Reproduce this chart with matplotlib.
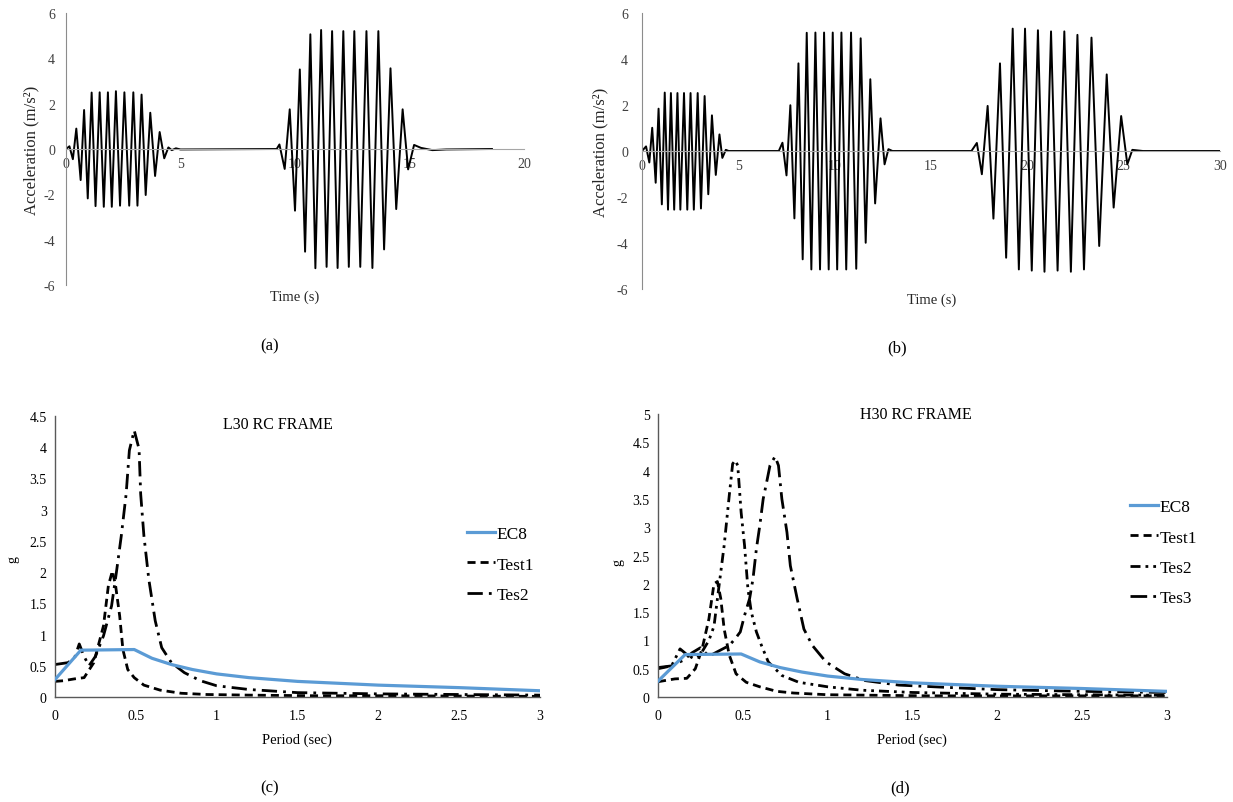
import matplotlib
matplotlib.use('Agg')
import matplotlib.pyplot as plt

plt.rcParams['font.family'] = ['Liberation Serif', 'DejaVu Serif']

# ---------------- data ----------------
# (a) acceleration record, extrema
time_a = [0.00, 0.15, 0.30, 0.45, 0.64, 0.79, 0.95, 1.12, 1.29, 1.47, 1.65, 1.83, 2.00, 2.18,
          2.36, 2.55, 2.76, 2.94, 3.12, 3.30, 3.48, 3.68, 3.89, 4.09, 4.29, 4.47, 4.62, 4.80,
          5.00, 9.20, 9.32, 9.55, 9.77, 10.00, 10.21, 10.44, 10.67, 10.89, 11.14, 11.38, 11.62,
          11.86, 12.11, 12.35, 12.59, 12.85, 13.12, 13.38, 13.64, 13.89, 14.17, 14.42, 14.70,
          14.94, 15.20, 15.50, 16.00, 16.60, 18.60]
acc_a = [0.0, 0.12, -0.45, 0.90, -1.37, 1.72, -2.18, 2.49, -2.52, 2.50, -2.55, 2.50, -2.55, 2.55,
         -2.50, 2.50, -2.50, 2.50, -2.50, 2.40, -2.03, 1.60, -1.19, 0.75, -0.41, 0.07, -0.05, 0.03,
         -0.02, 0.0, 0.20, -0.88, 1.75, -2.72, 3.51, -4.53, 5.06, -5.26, 5.25, -5.20, 5.20,
         -5.25, 5.20, -5.20, 5.20, -5.20, 5.20, -5.25, 5.20, -4.43, 3.56, -2.65, 1.75,
         -0.90, 0.18, 0.05, -0.05, -0.02, 0.0]

# (b) acceleration record
time_b = [0.00, 0.21, 0.38, 0.53, 0.71, 0.86, 1.03, 1.18, 1.35, 1.50, 1.67, 1.84, 1.99, 2.18,
          2.35, 2.52, 2.69, 2.89, 3.06, 3.25, 3.44, 3.63, 3.83, 4.02, 4.17, 4.35, 4.50,
          7.10, 7.29, 7.50, 7.70, 7.91, 8.12, 8.34, 8.55, 8.79, 9.00, 9.24, 9.45, 9.69, 9.90,
          10.13, 10.35, 10.60, 10.85, 11.12, 11.35, 11.61, 11.85, 12.10, 12.38, 12.59, 12.79, 13.00,
          17.10, 17.38, 17.64, 17.94, 18.24, 18.58, 18.90, 19.24, 19.56, 19.88, 20.23, 20.55,
          20.89, 21.23, 21.57, 21.92, 22.26, 22.60, 22.94, 23.33, 23.73, 24.12, 24.48, 24.87,
          25.19, 25.45, 26.00, 30.00]
acc_b = [0.0, 0.20, -0.50, 1.01, -1.38, 1.84, -2.32, 2.54, -2.55, 2.52, -2.55, 2.52, -2.55, 2.52,
         -2.55, 2.52, -2.55, 2.52, -2.50, 2.39, -1.88, 1.55, -1.04, 0.72, -0.30, 0.05, 0.0,
         0.0, 0.36, -1.06, 1.99, -2.93, 3.81, -4.71, 5.14, -5.15, 5.15, -5.15, 5.15, -5.15, 5.15,
         -5.15, 5.15, -5.15, 5.15, -5.12, 4.90, -3.99, 3.12, -2.28, 1.42, -0.58, 0.08, 0.0,
         0.0, 0.35, -1.01, 1.96, -2.94, 3.81, -4.64, 5.32, -5.15, 5.32, -5.20, 5.25,
         -5.25, 5.20, -5.20, 5.20, -5.25, 5.05, -5.15, 4.93, -4.13, 3.33, -2.46, 1.52,
         -0.58, 0.05, 0.0, 0.0]

# EC8 design spectrum (same in c and d)
period_ec8 = [0.0, 0.16, 0.49, 0.60, 0.72, 0.85, 1.0, 1.2, 1.5, 2.0, 2.5, 3.0]
sa_ec8 = [0.28, 0.75, 0.76, 0.62, 0.52, 0.44, 0.37, 0.31, 0.25, 0.19, 0.15, 0.10]

# (c) L30 RC frame
period_c_t1 = [0.0, 0.05, 0.12, 0.18, 0.24, 0.30, 0.33, 0.355, 0.375, 0.40, 0.42, 0.45, 0.49,
               0.55, 0.65, 0.78, 0.94, 1.2, 1.6, 2.0, 2.5, 3.0]
sa_c_t1 = [0.25, 0.26, 0.29, 0.31, 0.55, 1.14, 1.78, 2.02, 1.78, 1.30, 0.76, 0.44, 0.31,
           0.19, 0.11, 0.06, 0.04, 0.03, 0.02, 0.02, 0.015, 0.01]
period_c_t2 = [0.0, 0.08, 0.12, 0.15, 0.18, 0.21, 0.25, 0.30, 0.35, 0.38, 0.41, 0.44, 0.46, 0.49,
               0.52, 0.53, 0.55, 0.58, 0.62, 0.66, 0.72, 0.80, 0.90, 1.0, 1.2, 1.5, 2.0, 2.5, 3.0]
sa_c_t2 = [0.52, 0.55, 0.62, 0.85, 0.65, 0.50, 0.65, 0.98, 1.46, 2.00, 2.58, 3.25, 3.95, 4.27,
           3.97, 3.25, 2.58, 1.89, 1.22, 0.79, 0.55, 0.39, 0.26, 0.18, 0.12, 0.07, 0.05, 0.04, 0.03]

# (d) H30 RC frame
period_d_t1 = [0.0, 0.10, 0.17, 0.22, 0.26, 0.30, 0.33, 0.35, 0.37, 0.39, 0.42, 0.46, 0.52, 0.60,
               0.70, 0.80, 1.0, 1.3, 1.6, 2.0, 2.5, 3.0]
sa_d_t1 = [0.27, 0.32, 0.33, 0.50, 0.85, 1.38, 2.00, 2.04, 1.74, 1.20, 0.74, 0.41, 0.26, 0.18,
           0.10, 0.07, 0.04, 0.03, 0.02, 0.02, 0.02, 0.02]
period_d_t2 = [0.0, 0.08, 0.13, 0.17, 0.21, 0.25, 0.30, 0.33, 0.36, 0.39, 0.42, 0.44, 0.455, 0.47,
               0.49, 0.51, 0.53, 0.55, 0.58, 0.61, 0.65, 0.73, 0.83, 1.0, 1.2, 1.5, 2.0, 2.5, 3.0]
sa_d_t2 = [0.50, 0.55, 0.85, 0.75, 0.68, 0.75, 1.00, 1.25, 1.97, 2.68, 3.56, 4.12, 4.18, 4.09,
           3.26, 2.68, 1.91, 1.50, 1.15, 0.91, 0.62, 0.38, 0.26, 0.18, 0.12, 0.08, 0.05, 0.04, 0.03]
period_d_t3 = [0.0, 0.08, 0.15, 0.20, 0.25, 0.30, 0.35, 0.42, 0.455, 0.485, 0.51, 0.54, 0.56, 0.58,
               0.60, 0.62, 0.64, 0.66, 0.69, 0.71, 0.73, 0.76, 0.78, 0.82, 0.86, 0.91, 0.99, 1.1,
               1.22, 1.42, 1.7, 2.0, 2.5, 3.0]
sa_d_t3 = [0.52, 0.55, 0.65, 0.78, 0.87, 0.72, 0.80, 0.91, 1.03, 1.15, 1.44, 1.74, 2.09, 2.62,
           3.03, 3.50, 3.79, 4.09, 4.25, 4.09, 3.50, 2.91, 2.32, 1.74, 1.20, 0.91, 0.62, 0.41,
           0.29, 0.21, 0.17, 0.13, 0.10, 0.08]

ticks_time_a = [0, 5, 10, 15, 20]
ticks_time_b = [0, 5, 10, 15, 20, 25, 30]
ticks_acc = [-6, -4, -2, 0, 2, 4, 6]
ticks_period = [0, 0.5, 1, 1.5, 2, 2.5, 3]
ticks_g_c = [0, 0.5, 1, 1.5, 2, 2.5, 3, 3.5, 4, 4.5]
ticks_g_d = [0, 0.5, 1, 1.5, 2, 2.5, 3, 3.5, 4, 4.5, 5]

# ---------------- figure ----------------
W, H = 1233, 803
fig = plt.figure(figsize=(W / 100, H / 100), dpi=100)


def box(x0, x1, ytop, ybot):
    return [x0 / W, 1 - ybot / H, (x1 - x0) / W, (ybot - ytop) / H]


def ftxt(x, y, s, **kw):
    kw.setdefault('ha', 'center')
    kw.setdefault('va', 'center')
    fig.text(x / W, 1 - y / H, s, **kw)


def fmt(v):
    return '%g' % v


def time_axes(rect, xmax, xticks, t, a, ypad):
    ax = fig.add_axes(rect)
    ax.plot(t, a, color='black', lw=1.4, solid_joinstyle='round')
    ax.set_xlim(0, xmax)
    ax.set_ylim(-6, 6)
    for s in ('top', 'right'):
        ax.spines[s].set_visible(False)
    ax.spines['bottom'].set_position(('data', 0))
    ax.spines['bottom'].set_color('#a6a6a6')
    ax.spines['left'].set_color('#8c8c8c')
    ax.set_xticks(xticks)
    ax.set_xticklabels([fmt(v) for v in xticks])
    ax.set_yticks(ticks_acc)
    ax.set_yticklabels([fmt(v) for v in ticks_acc])
    ax.tick_params(axis='x', length=0, pad=6, labelsize=10, labelcolor='#404040')
    ax.tick_params(axis='y', length=0, pad=ypad, labelsize=10, labelcolor='#404040')
    return ax


ax_a = time_axes(box(66, 524, 14, 286), 20, ticks_time_a, time_a, acc_a, 8)
ax_b = time_axes(box(642, 1220, 14, 290), 30, ticks_time_b, time_b, acc_b, 10)

ftxt(31, 150, 'Acceleration (m/s²)', rotation=90, fontsize=12, color='#262626')
ftxt(295, 297, 'Time (s)', fontsize=10.5, color='#262626')
ftxt(600, 152, 'Acceleration (m/s²)', rotation=90, fontsize=12, color='#262626')
ftxt(932, 300, 'Time (s)', fontsize=10.5, color='#262626')

BLUE = '#5B9BD5'
LW = 2.0


def spec_axes(rect, ymax, yticks):
    ax = fig.add_axes(rect)
    ax.set_xlim(0, 3)
    ax.set_ylim(0, ymax)
    for s in ('top', 'right'):
        ax.spines[s].set_visible(False)
    for s in ('left', 'bottom'):
        ax.spines[s].set_color('#595959')
        ax.spines[s].set_linewidth(1.0)
    ax.set_xticks(ticks_period)
    ax.set_xticklabels([fmt(v) for v in ticks_period])
    ax.set_yticks(yticks)
    ax.set_yticklabels([fmt(v) for v in yticks])
    ax.tick_params(axis='x', length=0, pad=9, labelsize=10)
    ax.tick_params(axis='y', length=0, pad=6, labelsize=10)
    return ax


LEG = dict(loc='upper left', bbox_transform=fig.transFigure, frameon=False, borderpad=0,
           borderaxespad=0, handlelength=1.6, handletextpad=0.1, labelspacing=0.82, fontsize=12.5)

# (c)
ax_c = spec_axes(box(55, 540, 417, 698), 4.5, ticks_g_c)
ax_c.plot(period_ec8, sa_ec8, color=BLUE, lw=2.3, label='EC8', zorder=3)
ax_c.plot(period_c_t1, sa_c_t1, color='black', lw=LW, dashes=(2.9, 1.8), label='Test1')
ax_c.plot(period_c_t2, sa_c_t2, color='black', lw=LW, dashes=(5.5, 2.2, 1.0, 2.2), label='Tes2')
ax_c.legend(bbox_to_anchor=(467 / W, 1 - 527 / H), **LEG)
ftxt(278, 425, 'L30 RC FRAME', fontsize=11.5)
ftxt(13, 560, 'g', rotation=90, fontsize=10)
ftxt(297, 740, 'Period (sec)', fontsize=10.5)

# (d)
ax_d = spec_axes(box(658, 1167, 415, 698), 5, ticks_g_d)
ax_d.plot(period_ec8, sa_ec8, color=BLUE, lw=2.3, label='EC8', zorder=3)
ax_d.plot(period_d_t1, sa_d_t1, color='black', lw=LW, dashes=(2.9, 1.8), label='Test1')
ax_d.plot(period_d_t2, sa_d_t2, color='black', lw=LW, dashes=(3.6, 1.8, 1.0, 1.8, 1.0, 1.8),
          label='Tes2')
ax_d.plot(period_d_t3, sa_d_t3, color='black', lw=LW, dashes=(6.0, 2.2, 1.0, 2.2), label='Tes3')
ax_d.legend(bbox_to_anchor=(1130 / W, 1 - 500 / H), **LEG)
ftxt(916, 415, 'H30 RC FRAME', fontsize=11.5)
ftxt(618, 563, 'g', rotation=90, fontsize=10)
ftxt(912, 740, 'Period (sec)', fontsize=10.5)

# panel letters
ftxt(270, 346, '(a)', fontsize=12)
ftxt(897, 348, '(b)', fontsize=12)
ftxt(270, 788, '(c)', fontsize=12)
ftxt(900, 788, '(d)', fontsize=12)

fig.savefig('out.png', dpi=100)
